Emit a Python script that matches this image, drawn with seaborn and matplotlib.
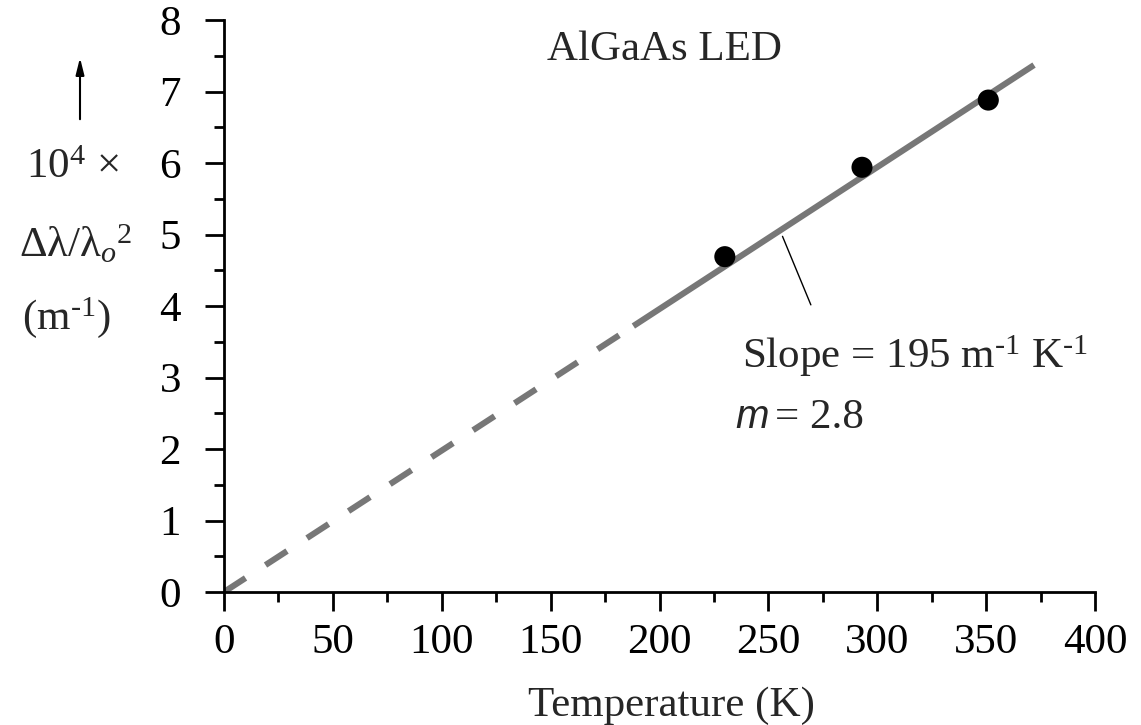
import numpy as np
import pandas as pd
import seaborn as sns
import matplotlib
matplotlib.use("Agg")
import matplotlib.pyplot as plt

# measured points (temperature K, 1e4 x dlambda/lambda0^2 in m^-1)
temp_k = [230, 293, 351]
spread = [4.69, 5.94, 6.88]

# best-fit line, extrapolated part (dashed) and fitted part (solid)
fit_dash_t = [0, 188]
fit_dash_y = [0, 3.72]
fit_solid_t = [188, 372]
fit_solid_y = [3.72, 7.37]

x_ticks = [0, 50, 100, 150, 200, 250, 300, 350, 400]
y_ticks = [0, 1, 2, 3, 4, 5, 6, 7, 8]

sns.set_style("ticks")
plt.rcParams["font.family"] = ["Liberation Serif", "DejaVu Serif"]
plt.rcParams["mathtext.fontset"] = "custom"
plt.rcParams["mathtext.rm"] = "Liberation Serif"
plt.rcParams["mathtext.it"] = "Liberation Serif:italic"

FS = 31
W, H = 1141, 725
fig = plt.figure(figsize=(W / 100, H / 100), dpi=100)
ax = fig.add_axes([224 / W, 1 - 592 / H, (1095 - 224) / W, (592 - 20) / H])

grey = "#777777"
dash_df = pd.DataFrame({"T": fit_dash_t, "y": fit_dash_y})
solid_df = pd.DataFrame({"T": fit_solid_t, "y": fit_solid_y})
pts = pd.DataFrame({"T": temp_k, "y": spread})

sns.lineplot(data=dash_df, x="T", y="y", ax=ax, color=grey, lw=4.4,
             linestyle=(0, (4.2, 3.9)), solid_capstyle="butt")
sns.lineplot(data=solid_df, x="T", y="y", ax=ax, color=grey, lw=4.4,
             solid_capstyle="butt")
sns.scatterplot(data=pts, x="T", y="y", ax=ax, color="black", s=230,
                edgecolor="none", zorder=5)

ax.set_xlim(0, 400)
ax.set_ylim(0, 8)
ax.set_xticks(x_ticks)
ax.set_yticks(y_ticks)
ax.set_xticks([25, 75, 125, 175, 225, 275, 325, 375], minor=True)
ax.set_yticks([0.5, 1.5, 2.5, 3.5, 4.5, 5.5, 6.5, 7.5], minor=True)
ax.tick_params(which="major", length=14, width=2, labelsize=FS, pad=9,
               color="black", labelcolor="black")
ax.tick_params(which="minor", length=7, width=2, color="black")
ax.tick_params(axis="y", pad=17)
for s in ["top", "right"]:
    ax.spines[s].set_visible(False)
for s in ["left", "bottom"]:
    ax.spines[s].set_linewidth(2)
    ax.spines[s].set_color("black")
ax.set_xlabel("")
ax.set_ylabel("")

ax.text(202.5, 7.44, "AlGaAs LED", fontsize=FS, ha="center", va="baseline")

ax.annotate("", xy=(256, 5.01), xytext=(270, 3.98),
            arrowprops=dict(arrowstyle="-", color="black", lw=1))
ax.text(238, 3.13, r"Slope = 195 m$^{\text{-1}}$ K$^{\text{-1}}$",
        fontsize=FS, ha="left", va="baseline")
ax.text(234.7, 2.29, "m", fontsize=29, ha="left", va="baseline",
        family=["Liberation Sans"], style="italic")
ax.text(253, 2.29, "= 2.8", fontsize=FS, ha="left", va="baseline")

# axis titles
fig.text(671 / W, 1 - 716 / H, "Temperature (K)", fontsize=FS,
         ha="center", va="baseline")
ax.annotate("", xy=(80 / W, 1 - 55 / H), xytext=(80 / W, 1 - 122 / H),
            xycoords="figure fraction", textcoords="figure fraction",
            annotation_clip=False,
            arrowprops=dict(arrowstyle="-|>,head_length=1.0,head_width=0.25",
                            color="black", lw=1.5))
fig.text(72 / W, 1 - 168 / H, r"10$^{4}$ ×", fontsize=FS,
         ha="center", va="center")
fig.text(76 / W, 1 - 245 / H, r"$\mathrm{Δλ/λ}_{\mathit{o}}{}^{\mathrm{2}}$",
         fontsize=FS, ha="center", va="center")
fig.text(66 / W, 1 - 318 / H, r"(m$^{\text{-1}}$)", fontsize=FS,
         ha="center", va="center")

fig.savefig("out.png", dpi=100)
